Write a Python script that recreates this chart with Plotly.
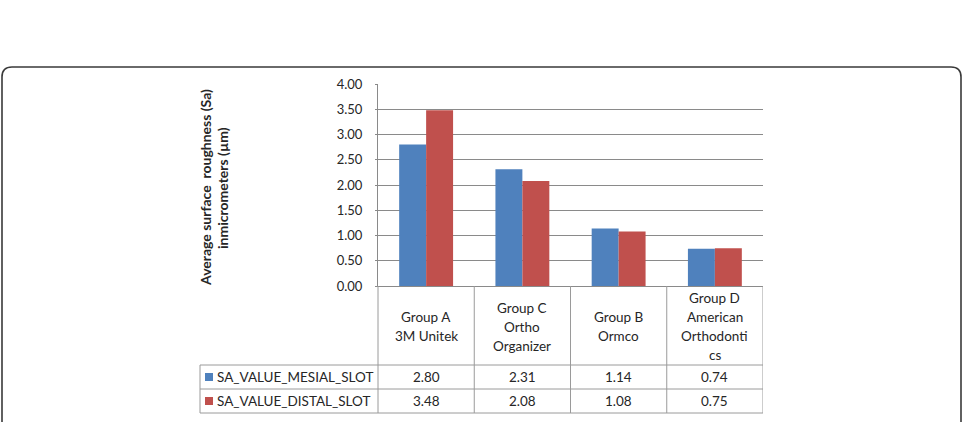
import plotly.graph_objects as go

categories = ["Group A<br>3M Unitek", "Group C<br>Ortho<br>Organizer", "Group B<br>Ormco",
              "Group D<br>American<br>Orthodonti<br>cs"]
series_names = ["SA_VALUE_MESIAL_SLOT", "SA_VALUE_DISTAL_SLOT"]
mesial = [2.80, 2.31, 1.14, 0.74]
distal = [3.48, 2.08, 1.08, 0.75]
y_title = ["Average surface  roughness (Sa)", "inmicrometers (µm)"]

colors = ["#4F81BD", "#C0504D"]
FONT = "Lato"
TXT = "#262626"
LINE = "#9a9a9a"
GRID = "#8a8a8a"

W, H = 965, 422
PL, PR, PT, PB = 378, 763, 84, 286


def px(x):
    return (x - PL) / (PR - PL)


def py(y):
    return (PB - y) / (PB - PT)


xs = list(range(len(categories)))
fig = go.Figure()
for name, vals, c in zip(series_names, [mesial, distal], colors):
    fig.add_trace(go.Bar(x=xs, y=vals, name=name, marker=dict(color=c, line=dict(width=0)),
                         showlegend=False))

shapes = []
annotations = []

# rounded border
r = 10
x0, x1, y0, y1 = 2, 961, 67, 460
path = (f"M {px(x0)},{py(y1)} L {px(x0)},{py(y0 + r)} Q {px(x0)},{py(y0)} {px(x0 + r)},{py(y0)} "
        f"L {px(x1 - r)},{py(y0)} Q {px(x1)},{py(y0)} {px(x1)},{py(y0 + r)} L {px(x1)},{py(y1)}")
shapes.append(dict(type="path", xref="paper", yref="paper", path=path,
                   line=dict(color="#3a3a3a", width=1.6)))

# table geometry
row_tops = [365, 389, 413]
for yy in row_tops:
    shapes.append(dict(type="line", xref="paper", yref="paper", x0=px(200), x1=px(PR),
                       y0=py(yy), y1=py(yy), line=dict(color=LINE, width=1)))
shapes.append(dict(type="line", xref="paper", yref="paper", x0=px(200), x1=px(200),
                   y0=py(365), y1=py(413), line=dict(color=LINE, width=1)))
shapes.append(dict(type="line", xref="paper", yref="paper", x0=0, x1=0,
                   y0=py(PB), y1=py(413), line=dict(color=LINE, width=1)))
for i in range(len(categories)):
    shapes.append(dict(type="line", xref="x", yref="paper", x0=i + 0.5, x1=i + 0.5,
                       y0=py(PB), y1=py(413), line=dict(color=LINE, width=1)))

# header cells
for i, cat in enumerate(categories):
    lines = cat.split("<br>")
    n = len(lines)
    for k, ln in enumerate(lines):
        yc = 326.5 + (k - (n - 1) / 2) * 19
        annotations.append(dict(x=i, y=py(yc), xref="x", yref="paper", text=ln, showarrow=False,
                                xanchor="center", yanchor="middle",
                                font=dict(family=FONT, size=13.5, color=TXT)))

# data cells and legend keys
row_centers = [377, 401]
for name, vals, c, yc in zip(series_names, [mesial, distal], colors, row_centers):
    for i, v in enumerate(vals):
        annotations.append(dict(x=i, y=py(yc), xref="x", yref="paper", text=f"{v:.2f}",
                                showarrow=False, xanchor="center", yanchor="middle",
                                font=dict(family=FONT, size=13.5, color=TXT)))
    shapes.append(dict(type="rect", xref="paper", yref="paper", x0=px(205), x1=px(213),
                       y0=py(yc + 4), y1=py(yc - 4), fillcolor=c, line=dict(width=0)))
    annotations.append(dict(x=px(215), y=py(yc), xref="paper", yref="paper", text=name,
                            showarrow=False, xanchor="left", yanchor="middle",
                            font=dict(family=FONT, size=13.5, color=TXT)))

# y axis title (two lines)
for xc, t in zip([205, 222], y_title):
    annotations.append(dict(x=px(xc), y=py(188), xref="paper", yref="paper", text=f"<b>{t}</b>",
                            showarrow=False, textangle=-90, xanchor="center", yanchor="middle",
                            font=dict(family=FONT, size=14, color=TXT)))

fig.update_layout(
    width=W, height=H,
    margin=dict(l=PL, r=W - PR, t=PT, b=H - PB, pad=0),
    paper_bgcolor="white", plot_bgcolor="white",
    barmode="group", bargap=0.44, bargroupgap=0,
    shapes=shapes, annotations=annotations,
    xaxis=dict(range=[-0.5, len(categories) - 0.5], showticklabels=False, showgrid=False,
               zeroline=False, showline=True, linecolor=GRID, linewidth=1, ticks=""),
    yaxis=dict(range=[0, 4], dtick=0.5, tickformat=".2f", showgrid=True, gridcolor=GRID,
               gridwidth=1, zeroline=False, showline=True, linecolor=GRID, linewidth=1,
               ticks="outside", ticklen=2, tickcolor=GRID, ticklabelstandoff=10,
               tickfont=dict(family=FONT, size=13, color=TXT)),
)

fig.write_html("out.html")
